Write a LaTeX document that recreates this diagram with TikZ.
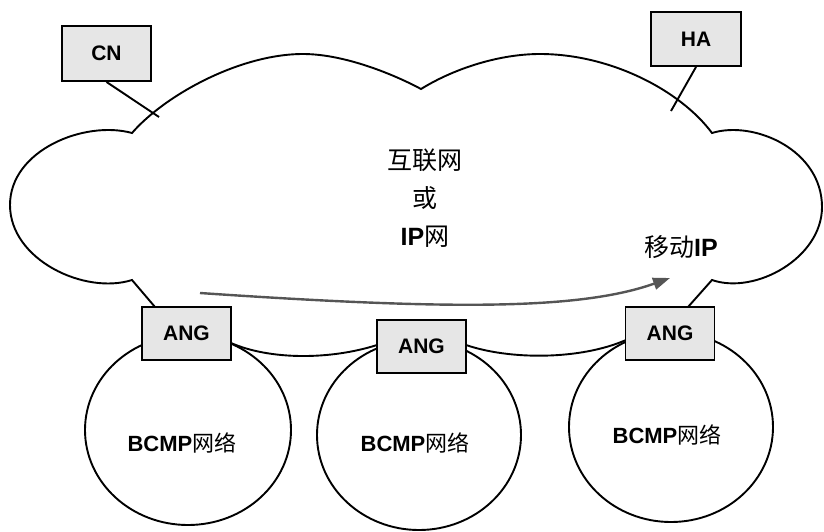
\documentclass[tikz,border=0pt]{standalone}
\usepackage{fontspec}
\setmainfont{Liberation Sans}
\newfontfamily\cjk{Noto Sans CJK SC}
\usetikzlibrary{arrows.meta,shapes.geometric}
\definecolor{boxgray}{RGB}{230,230,230}
\definecolor{arrowgray}{RGB}{85,85,85}
\newcommand\zh[1]{{\cjk #1}}
\begin{document}
\begin{tikzpicture}[x=1pt,y=-1pt,
  line/.style={draw=black,line width=1.9pt},
  box/.style={draw=black,fill=boxgray,line width=1.9pt,minimum width=89pt,minimum height=53pt,
    inner sep=0pt,font=\fontsize{21}{24}\selectfont\bfseries},
  net/.style={ellipse,draw=black,line width=1.9pt,inner sep=0pt},
  nettext/.style={font=\fontsize{22}{24}\selectfont\bfseries},
  bigtext/.style={font=\fontsize{25}{38}\selectfont,align=center}]
\useasboundingbox (0,0) rectangle (824,531);
% cloud
\draw[line] (155,307) -- (132,280)
  .. controls (85,295) and (10,260) .. (10,205)
  .. controls (10,150) and (85,120) .. (132,133)
  .. controls (165,95) and (240,54) .. (303,54)
  .. controls (345,54) and (395,75) .. (421,89)
  .. controls (455,68) and (500,54) .. (540,54)
  .. controls (610,54) and (680,90) .. (712,133)
  .. controls (754,120) and (822,150) .. (822,207)
  .. controls (822,258) and (755,295) .. (712,280) -- (688,307);
% access networks
\node[net,minimum width=206pt,minimum height=190pt] (c1) at (188,430) {};
\node[net,minimum width=204pt,minimum height=190pt] (c2) at (419,435) {};
\node[net,minimum width=204pt,minimum height=190pt] (c3) at (671,427) {};
% lower cloud edge
\draw[line] (231,343) .. controls (270,360) and (330,360) .. (377,345);
\draw[line] (466,345) .. controls (510,360) and (580,360) .. (626,340);
% boxes
\coordinate (cnend) at (159,117);
\coordinate (haend) at (671,111);
\node[box,minimum width=89pt,minimum height=55pt] (cn) at (106.5,53.5) {CN};
\node[box,minimum width=90pt,minimum height=54pt] (ha) at (696,39) {HA};
\draw[line] (cn.south) -- (cnend);
\draw[line] (ha.south) -- (haend);
\node[box] (ang1) at (186.5,333.5) {ANG};
\node[box] (ang2) at (421.5,346.5) {ANG};
\node[box] (ang3) at (670,333.5) {ANG};
% texts
\node[bigtext] (inet) at (425,198) {\zh{互联网}\\\zh{或}\\\textbf{IP}\zh{网}};
\node[font=\fontsize{25}{30}\selectfont] (mip) at (681,247) {\zh{移动}\textbf{IP}};
\node[nettext] (t1) at (182,443) {BCMP\zh{\mdseries 网络}};
\node[nettext] (t2) at (415,443) {BCMP\zh{\mdseries 网络}};
\node[nettext] (t3) at (667,435) {BCMP\zh{\mdseries 网络}};
% mobility arrow
\coordinate (mstart) at (200,293);
\coordinate (mend) at (670,278);
\draw[draw=arrowgray,line width=2.4pt,-{Triangle[length=17pt,width=12pt]},arrowgray]
  (mstart) .. controls (450,310) and (580,310) .. (mend);
\end{tikzpicture}
\end{document}
